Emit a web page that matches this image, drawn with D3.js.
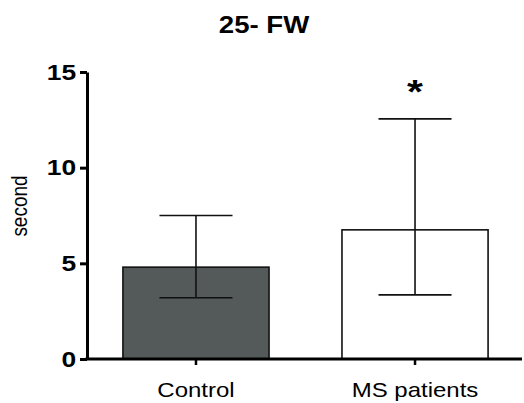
<!DOCTYPE html>
<html>
<head>
<meta charset="utf-8">
<script src="https://d3js.org/d3.v7.min.js"></script>
<style>
  body { margin: 0; background: #fff; }
  text { font-family: Arial, "Liberation Sans", sans-serif; }
</style>
</head>
<body>
<div id="chart"></div>
<script>
// chart values
var groups = ["Control", "MS patients"];
var means = [4.8, 6.75];
var upper = [7.5, 12.55];
var lower = [3.2, 3.35];
var fills = ["#545959", "#ffffff"];
var marks = ["", "*"];
var yTicks = [0, 5, 10, 15];

var svgWidth = 524;
var svgHeight = 403;

var margin = { top: 72, right: 0, bottom: 44, left: 87 };
var height = svgHeight - margin.top - margin.bottom;

// the original picture is a bit wider than tall, so text is stretched
var stretch = 1.2;

var svg = d3.select("#chart")
  .append("svg")
  .attr("width", svgWidth)
  .attr("height", svgHeight);

var x = d3.scaleBand()
  .domain(groups)
  .range([margin.left, svgWidth])
  .paddingInner(0.333)
  .paddingOuter(0.164);

var y = d3.scaleLinear()
  .domain([0, 15])
  .range([margin.top + height, margin.top]);

// title
svg.append("text")
  .attr("transform", `translate(264, 33) scale(${stretch},1)`)
  .attr("text-anchor", "middle")
  .attr("font-size", 23)
  .attr("font-weight", "bold")
  .text("25- FW");

// bars
svg.selectAll("rect.bar")
  .data(groups)
  .enter()
  .append("rect")
  .attr("class", "bar")
  .attr("x", d => x(d))
  .attr("y", (d, i) => y(means[i]))
  .attr("width", x.bandwidth())
  .attr("height", (d, i) => y(0) - y(means[i]))
  .attr("fill", (d, i) => fills[i])
  .attr("stroke", "#111")
  .attr("stroke-width", 1.6);

// error bars
var capW = x.bandwidth() / 2;
groups.forEach(function(g, i) {
  var cx = x(g) + x.bandwidth() / 2;
  var eb = svg.append("g")
    .attr("stroke", "#111")
    .attr("stroke-width", 1.6);
  eb.append("line")
    .attr("x1", cx).attr("x2", cx)
    .attr("y1", y(lower[i])).attr("y2", y(upper[i]));
  eb.append("line")
    .attr("x1", cx - capW / 2).attr("x2", cx + capW / 2)
    .attr("y1", y(upper[i])).attr("y2", y(upper[i]));
  eb.append("line")
    .attr("x1", cx - capW / 2).attr("x2", cx + capW / 2)
    .attr("y1", y(lower[i])).attr("y2", y(lower[i]));

  if (marks[i]) {
    svg.append("text")
      .attr("transform", `translate(${cx}, ${y(upper[i]) - 5}) scale(${stretch},1)`)
      .attr("text-anchor", "middle")
      .attr("font-size", 34)
      .attr("font-weight", "bold")
      .attr("dy", "0.75em")
      .attr("y", -36)
      .text(marks[i]);
  }
});

// y axis
var yAxis = svg.append("g")
  .attr("transform", `translate(${margin.left}, 0)`)
  .call(d3.axisLeft(y).tickValues(yTicks).tickSize(7).tickSizeOuter(0).tickPadding(4));
yAxis.select(".domain").attr("stroke", "#000").attr("stroke-width", 3);
yAxis.selectAll(".tick line").attr("stroke", "#000").attr("stroke-width", 3);
yAxis.selectAll(".tick text")
  .attr("font-size", 22)
  .attr("font-weight", "bold")
  .attr("fill", "#000")
  .attr("font-family", "Arial, 'Liberation Sans', sans-serif")
  .attr("x", -9)
  .attr("transform", `scale(${stretch},1)`);

// x axis
var xAxis = svg.append("g")
  .attr("transform", `translate(0, ${y(0)})`)
  .call(d3.axisBottom(x).tickSize(6).tickSizeOuter(0));
xAxis.select(".domain")
  .attr("d", `M${margin.left - 1.5},0H${svgWidth - 2}`)
  .attr("stroke", "#000").attr("stroke-width", 3);
xAxis.selectAll(".tick line").attr("stroke", "#000").attr("stroke-width", 2.5);
xAxis.selectAll(".tick text")
  .attr("font-size", 20)
  .attr("fill", "#000")
  .attr("font-family", "Arial, 'Liberation Sans', sans-serif")
  .attr("y", 0)
  .attr("dy", 0)
  .attr("transform", `translate(0, 38) scale(${stretch},1)`);

// y label
svg.append("text")
  .attr("transform", `translate(27, 206) rotate(-90) scale(1,1.15)`)
  .attr("text-anchor", "middle")
  .attr("font-size", 19)
  .text("second");
</script>
</body>
</html>
